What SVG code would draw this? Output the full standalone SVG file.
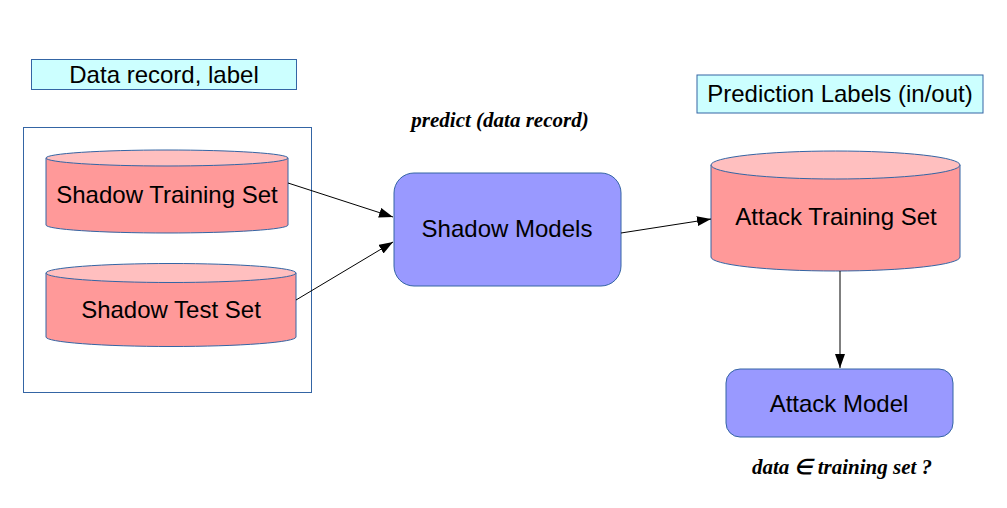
<svg xmlns="http://www.w3.org/2000/svg" width="1007" height="508" viewBox="0 0 1007 508">
<defs>
<style>
.lbl{fill:#ccffff;stroke:#3465a4;stroke-width:1}
.body{fill:#ff9999;stroke:#3465a4;stroke-width:1}
.top{fill:#ffbfbf;stroke:#3465a4;stroke-width:1}
.model{fill:#9999ff;stroke:#3465a4;stroke-width:1}
.t{font-family:"Liberation Sans",Arial,sans-serif;font-size:24px;fill:#000;text-anchor:middle}
.it{font-family:"Liberation Serif","Times New Roman",serif;font-size:21px;font-style:italic;font-weight:bold;fill:#000;text-anchor:middle}
.con{stroke:#000;stroke-width:1;fill:none;marker-end:url(#arr)}
</style>
<marker id="arr" viewBox="0 0 14 10" refX="14" refY="5" markerWidth="14" markerHeight="10" markerUnits="userSpaceOnUse" orient="auto">
<path d="M0,0 L14,5 L0,10 z" fill="#000"/>
</marker>
</defs>
<rect width="1007" height="508" fill="#fff"/>
<g id="data-label">
<rect class="lbl" x="31.5" y="59.5" width="265" height="30"/>
<text class="t" x="164" y="83">Data record, label</text>
</g>
<g id="frame">
<rect x="23.5" y="127.5" width="288" height="265" fill="none" stroke="#3465a4" stroke-width="1"/>
</g>
<g id="shadow-training">
<path class="body" d="M46,158 V225 A121,8 0 0 0 288,225 V158 Z"/>
<ellipse class="top" cx="167" cy="158" rx="121" ry="8"/>
<text class="t" x="167" y="203">Shadow Training Set</text>
</g>
<g id="shadow-test">
<path class="body" d="M46,273 V337 A125,9.5 0 0 0 296,337 V273 Z"/>
<ellipse class="top" cx="171" cy="273" rx="125" ry="9.5"/>
<text class="t" x="171" y="318">Shadow Test Set</text>
</g>
<g id="shadow-models">
<rect class="model" x="394" y="173" width="227" height="113" rx="20" ry="20"/>
<text class="t" x="507" y="237">Shadow Models</text>
</g>
<g id="predict-label">
<text class="it" x="500" y="127">predict (data record)</text>
</g>
<g id="prediction-labels">
<rect class="lbl" x="697" y="75" width="286" height="38"/>
<text class="t" x="840" y="102">Prediction Labels (in/out)</text>
</g>
<g id="attack-training">
<path class="body" d="M711,165 V257 A124.5,14 0 0 0 960,257 V165 Z"/>
<ellipse class="top" cx="835.5" cy="165" rx="124.5" ry="14"/>
<text class="t" x="836" y="225">Attack Training Set</text>
</g>
<g id="attack-model">
<rect class="model" x="726" y="369" width="227" height="68" rx="14" ry="14"/>
<text class="t" x="839" y="412">Attack Model</text>
</g>
<g id="membership-label">
<text class="it" x="842" y="474">data ∈ training set ?</text>
</g>
<g id="connectors">
<line class="con" x1="288" y1="183" x2="393" y2="217"/>
<line class="con" x1="296" y1="300" x2="393" y2="242"/>
<line class="con" x1="621" y1="233" x2="711" y2="219"/>
<line class="con" x1="840" y1="271" x2="840" y2="368"/>
</g>
</svg>
